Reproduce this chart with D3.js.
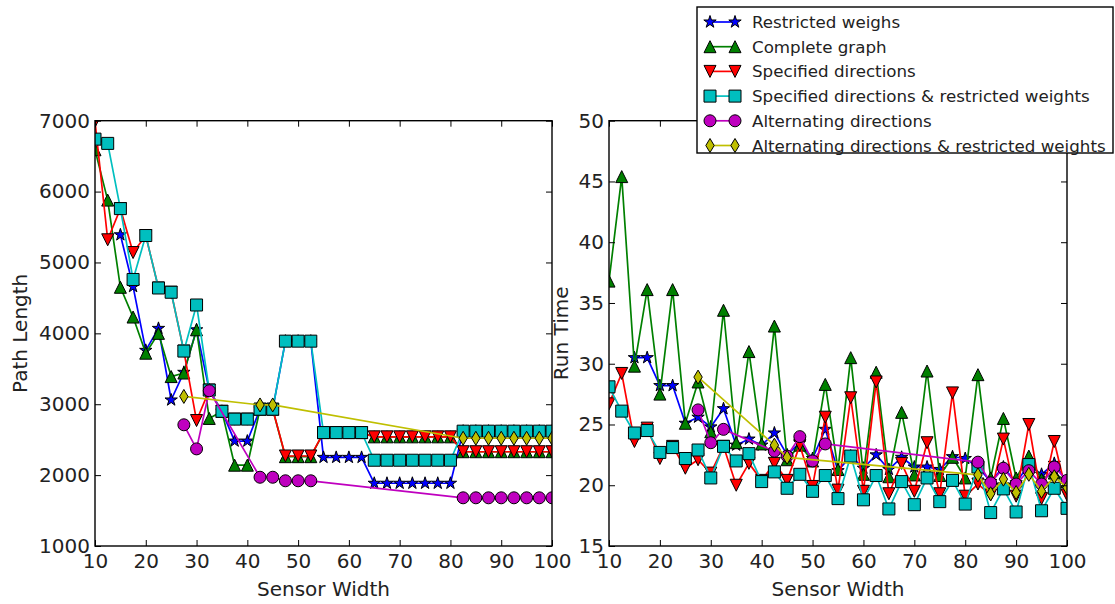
<!DOCTYPE html>
<html>
<head>
<meta charset="utf-8">
<script src="https://cdn.jsdelivr.net/npm/d3@7"></script>
<style>
  body { margin: 0; background: #fff; }
  svg { display: block; font-family: "DejaVu Sans", sans-serif; }
</style>
</head>
<body>
<svg id="chart" width="1115" height="604"></svg>
<script>
// ---- data -----------------------------------------------------------
const sensorWidth = [10, 12.5, 15, 17.5, 20, 22.5, 25, 27.5, 30, 32.5, 35, 37.5, 40, 42.5, 45, 47.5, 50, 52.5,
  55, 57.5, 60, 62.5, 65, 67.5, 70, 72.5, 75, 77.5, 80, 82.5, 85, 87.5, 90, 92.5, 95, 97.5, 100];

const widthTicks = [10, 20, 30, 40, 50, 60, 70, 80, 90, 100];
const pathLengthTicks = [1000, 2000, 3000, 4000, 5000, 6000, 7000];
const runTimeTicks = [15, 20, 25, 30, 35, 40, 45, 50];

const seriesNames = ["Restricted weighs", "Complete graph", "Specified directions",
  "Specified directions & restricted weights", "Alternating directions",
  "Alternating directions & restricted weights"];

// Path length per sensor width (null = not measured)
const pathRestricted = [null, null, 5390, 4660, 3760, 4070, 3060, 3450, 4050, 3200, 2900, 2480, 2480, 2930, 2930,
  3890, 3890, 3890, 2250, 2250, 2250, 2250, 1885, 1885, 1885, 1885, 1885, 1885, 1885,
  2620, 2620, 2620, 2620, 2620, 2620, 2620, 2620];
const pathComplete = [6590, 5880, 4650, 4230, 3720, 4000, 3390, 3440, 4050, 2800, 2900, 2140, 2140, 2930, 2930,
  2260, 2260, 2260, 2600, 2600, 2600, 2600, 2540, 2540, 2540, 2540, 2540, 2540, 2540,
  2330, 2330, 2330, 2330, 2330, 2330, 2330, 2330];
const pathSpecified = [6990, 5320, 5760, 5140, 5380, 4640, 4580, 3750, 2770, 3200, 2900, 2790, 2790, 2930, 2930,
  2270, 2270, 2270, 2600, 2600, 2600, 2600, 2540, 2540, 2540, 2540, 2540, 2540, 2540,
  2330, 2330, 2330, 2330, 2330, 2330, 2330, 2330];
const pathSpecifiedRestricted = [6740, 6680, 5760, 4760, 5380, 4640, 4580, 3750, 4400, 3200, 2900, 2790, 2790, 2930, 2930,
  3890, 3890, 3890, 2600, 2600, 2600, 2600, 2210, 2210, 2210, 2210, 2210, 2210, 2210,
  2620, 2620, 2620, 2620, 2620, 2620, 2620, 2620];
const pathAlternating = [null, null, null, null, null, null, null, 2710, 2370, 3190, null, null, null, 1970, 1970,
  1920, 1920, 1920, null, null, null, null, null, null, null, null, null, null, null,
  1680, 1680, 1680, 1680, 1680, 1680, 1680, 1680];
const pathAlternatingRestricted = [null, null, null, null, null, null, null, 3110, null, null, null, null, null, 2990, 2990,
  null, null, null, null, null, null, null, null, null, null, null, null, null, null,
  2520, 2520, 2520, 2520, 2520, 2520, 2520, 2520];

// Run time per sensor width
const timeRestricted = [null, null, 30.5, 30.5, 28.2, 28.2, 25.1, 25.6, 24.8, 26.3, 23.3, 23.8, 23.3, 24.3, 22.5,
  23.5, 22.2, 24.6, 21.2, 22.4, 21.4, 22.5, 21.3, 22.3, 21.5, 21.5, 21.3, 22.35, 22.2,
  21.5, 20.3, 21.5, 20.2, 21.7, 20.9, 21.8, 20.3];
const timeComplete = [36.8, 45.4, 29.8, 36.1, 27.5, 36.1, 25.1, 28.5, 24.4, 34.4, 23.5, 31.0, 23.4, 33.1, 22.1,
  23.3, 22.0, 28.3, 21.3, 30.5, 20.9, 29.3, 20.7, 26.0, 20.85, 29.4, 20.8, 22.3, 20.6,
  29.1, 20.6, 25.5, 20.6, 22.4, 20.5, 21.0, 20.3];
const timeSpecified = [26.7, 29.2, 23.6, 24.7, 22.2, 23.2, 21.4, 22.1, 21.0, 23.2, 20.0, 21.8, 20.4, 21.8, 20.4,
  23.3, 19.9, 25.6, 19.6, 27.2, 19.5, 28.5, 19.3, 21.8, 19.5, 23.5, 19.3, 27.6, 19.1,
  20.1, 19.2, 23.8, 19.1, 25.0, 18.9, 23.6, 19.2];
const timeSpecifiedRestricted = [28.1, 26.1, 24.3, 24.5, 22.7, 23.1, 22.2, 22.9, 20.6, 23.2, 22.0, 22.6, 20.3, 21.1, 19.75,
  20.9, 19.5, 20.8, 18.9, 22.4, 18.8, 20.8, 18.05, 20.3, 18.4, 20.6, 18.65, 20.4, 18.45,
  21.5, 17.75, 19.7, 17.8, 21.7, 17.9, 19.75, 18.1];
const timeAlternating = [null, null, null, null, null, null, null, 26.2, 23.5, 24.6, null, null, null, 22.8, 22.4,
  24.0, 22.0, 23.4, null, null, null, null, null, null, null, null, null, null, null,
  21.9, 20.2, 21.4, 20.1, 21.2, 20.1, 21.5, 20.4];
const timeAlternatingRestricted = [null, null, null, null, null, null, null, 28.9, null, null, null, null, null, 23.3, 22.3,
  null, null, null, null, null, null, null, null, null, null, null, null, null, null,
  20.85, 19.3, 20.5, 19.4, 20.9, 19.5, 20.7, 19.8];

// ---- styling --------------------------------------------------------
const colors = ["#0000ff", "#008000", "#ff0000", "#00bfbf", "#bf00bf", "#bfbf00"];
const markers = ["star", "triangleUp", "triangleDown", "square", "circle", "thinDiamond"];
const textColor = "#222";

function markerPath(type) {
  switch (type) {
    case "star": {
      const R = 6.5, r = R * 0.381966, pts = [];
      for (let k = 0; k < 10; k++) {
        const a = -Math.PI / 2 + k * Math.PI / 5, rr = k % 2 ? r : R;
        pts.push([rr * Math.cos(a), rr * Math.sin(a)]);
      }
      return "M" + pts.map(p => p[0].toFixed(2) + "," + p[1].toFixed(2)).join("L") + "Z";
    }
    case "triangleUp": return "M0,-6L6,6L-6,6Z";
    case "triangleDown": return "M0,6L6,-6L-6,-6Z";
    case "square": return "M-6,-6H6V6H-6Z";
    case "circle": return "M6,0A6,6 0 1,1 -6,0A6,6 0 1,1 6,0Z";
    case "thinDiamond": return "M0,-7L4.2,0L0,7L-4.2,0Z";
  }
}

const svg = d3.select("#chart");

function drawPanel(opts) {
  const { left, right, top, bottom, yDomain, yTicks, yLabel, yLabelX, seriesValues, clipId } = opts;
  const x = d3.scaleLinear().domain([10, 100]).range([left, right]);
  const y = d3.scaleLinear().domain(yDomain).range([bottom, top]);
  const g = svg.append("g");

  svg.append("clipPath").attr("id", clipId)
    .append("rect").attr("x", left).attr("y", top).attr("width", right - left).attr("height", bottom - top);

  const plot = g.append("g").attr("clip-path", `url(#${clipId})`);

  seriesValues.forEach((vals, s) => {
    const pts = sensorWidth.map((w, i) => ({ w, v: vals[i] })).filter(d => d.v !== null);
    const line = d3.line().x(d => x(d.w)).y(d => y(d.v));
    const sg = plot.append("g");
    sg.append("path").attr("d", line(pts)).attr("fill", "none")
      .attr("stroke", colors[s]).attr("stroke-width", 1.7).attr("stroke-linejoin", "round");
    sg.selectAll("path.m").data(pts).join("path").attr("class", "m")
      .attr("d", markerPath(markers[s]))
      .attr("transform", d => `translate(${x(d.w)},${y(d.v)})`)
      .attr("fill", colors[s]).attr("stroke", "#000").attr("stroke-width", 1);
  });

  // axes: ticks point inward on all four sides
  const tickLen = 6;
  const axB = g.append("g").attr("transform", `translate(0,${bottom})`)
    .call(d3.axisBottom(x).tickValues(widthTicks).tickSizeInner(-tickLen).tickSizeOuter(0).tickPadding(8).tickFormat(d3.format("d")));
  const axT = g.append("g").attr("transform", `translate(0,${top})`)
    .call(d3.axisTop(x).tickValues(widthTicks).tickSizeInner(-tickLen).tickSizeOuter(0).tickFormat(""));
  const axL = g.append("g").attr("transform", `translate(${left},0)`)
    .call(d3.axisLeft(y).tickValues(yTicks).tickSizeInner(-tickLen).tickSizeOuter(0).tickPadding(5).tickFormat(d3.format("d")));
  const axR = g.append("g").attr("transform", `translate(${right},0)`)
    .call(d3.axisRight(y).tickValues(yTicks).tickSizeInner(-tickLen).tickSizeOuter(0).tickFormat(""));
  [axB, axT, axL, axR].forEach(a => {
    a.select(".domain").remove();
    a.selectAll(".tick line").attr("stroke", "#000").attr("stroke-width", 1);
    a.selectAll(".tick text").attr("fill", textColor).style("font-size", "20px").style("font-family", "DejaVu Sans");
  });

  g.append("rect").attr("x", left).attr("y", top).attr("width", right - left).attr("height", bottom - top)
    .attr("fill", "none").attr("stroke", "#000").attr("stroke-width", 1.4);

  g.append("text").attr("x", (left + right) / 2).attr("y", 596).attr("text-anchor", "middle")
    .attr("fill", textColor).style("font-size", "20px").text("Sensor Width");
  g.append("text").attr("transform", `translate(${yLabelX},${(top + bottom) / 2}) rotate(-90)`)
    .attr("text-anchor", "middle").attr("fill", textColor).style("font-size", "20px").text(yLabel);
}

drawPanel({
  left: 95, right: 552, top: 120.7, bottom: 546, yDomain: [1000, 7000], yTicks: pathLengthTicks,
  yLabel: "Path Length", yLabelX: 27, clipId: "clipPath1",
  seriesValues: [pathRestricted, pathComplete, pathSpecified, pathSpecifiedRestricted, pathAlternating, pathAlternatingRestricted]
});
drawPanel({
  left: 609, right: 1067, top: 120.7, bottom: 546, yDomain: [15, 50], yTicks: runTimeTicks,
  yLabel: "Run Time", yLabelX: 568, clipId: "clipRun",
  seriesValues: [timeRestricted, timeComplete, timeSpecified, timeSpecifiedRestricted, timeAlternating, timeAlternatingRestricted]
});

// ---- legend ---------------------------------------------------------
const legend = svg.append("g");
legend.append("rect").attr("x", 697).attr("y", 7).attr("width", 416).attr("height", 146)
  .attr("fill", "#fff").attr("stroke", "#000").attr("stroke-width", 1.4);
seriesNames.forEach((name, s) => {
  const cy = 22 + s * 24.7;
  const row = legend.append("g");
  row.append("line").attr("x1", 710).attr("x2", 735).attr("y1", cy).attr("y2", cy)
    .attr("stroke", colors[s]).attr("stroke-width", 1.7);
  [710, 735].forEach(cx => row.append("path").attr("d", markerPath(markers[s]))
    .attr("transform", `translate(${cx},${cy})`).attr("fill", colors[s]).attr("stroke", "#000").attr("stroke-width", 1));
  row.append("text").attr("x", 752).attr("y", cy).attr("dy", "0.36em").attr("fill", textColor)
    .style("font-size", "16.7px").text(name);
});
</script>
</body>
</html>
